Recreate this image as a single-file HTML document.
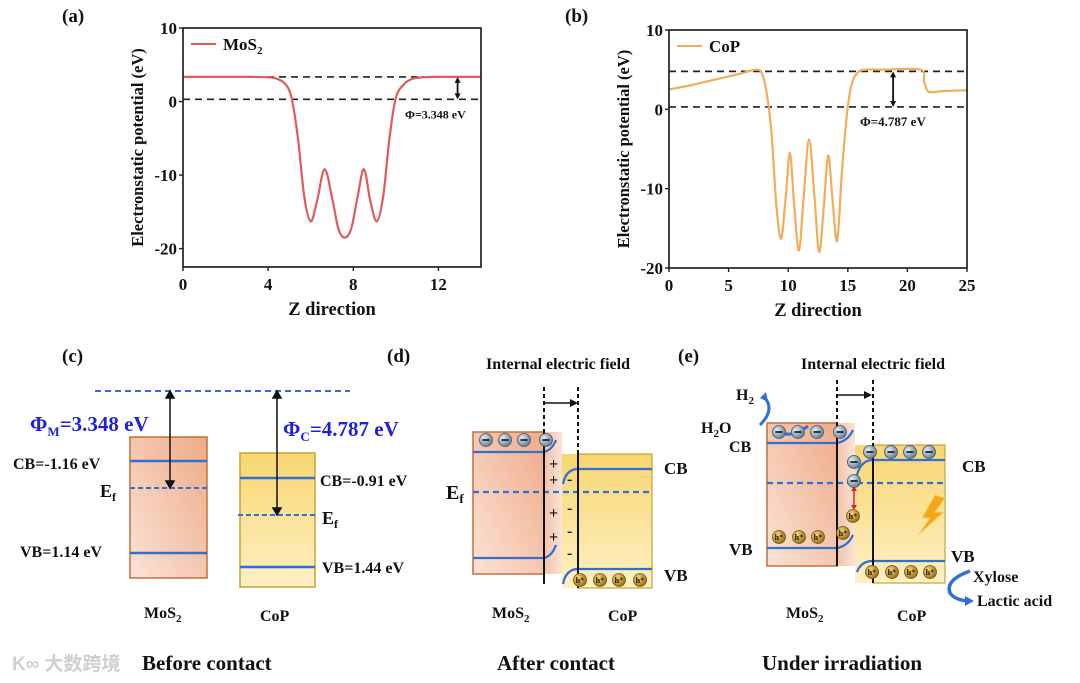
<!DOCTYPE html>
<html><head><meta charset="utf-8"><style>
html,body{margin:0;padding:0;background:#fff;width:1080px;height:683px;overflow:hidden}
svg text{font-family:"Liberation Serif","Noto Serif CJK SC",serif;font-weight:bold;fill:#111}
</style></head><body>
<svg id="fig" width="1080" height="683" viewBox="0 0 1080 683" xmlns="http://www.w3.org/2000/svg">
<defs>
<linearGradient id="gM" x1="0" y1="1" x2="1" y2="0"><stop offset="0" stop-color="#fbe3d6"/><stop offset="1" stop-color="#eeab88"/></linearGradient>
<linearGradient id="gC" x1="0" y1="0" x2="0" y2="1"><stop offset="0" stop-color="#f8d670"/><stop offset="1" stop-color="#fdf0c4"/></linearGradient>
<linearGradient id="gP" x1="0" y1="0" x2="1" y2="0"><stop offset="0" stop-color="#f2c3a8"/><stop offset="1" stop-color="#fbe3d6"/></linearGradient>
<radialGradient id="gE" cx="0.35" cy="0.35" r="0.7"><stop offset="0" stop-color="#e8eef5"/><stop offset="1" stop-color="#5e7891"/></radialGradient>
<radialGradient id="gH" cx="0.35" cy="0.35" r="0.7"><stop offset="0" stop-color="#f7dc7a"/><stop offset="1" stop-color="#9a6a10"/></radialGradient>
</defs>
<g id="pa"></g>
<g id="pb"></g>

<!-- panel c -->
<g>
<text x="62" y="362" font-size="19">(c)</text>
<line x1="95" y1="391" x2="350" y2="391" stroke="#2f6fd6" stroke-width="2" stroke-dasharray="6,4"/>
<rect x="130" y="437" width="77" height="141" fill="url(#gM)" stroke="#c0703f" stroke-width="1.5"/>
<line x1="130" y1="461" x2="207" y2="461" stroke="#2f6fd6" stroke-width="2.5"/>
<line x1="130" y1="488" x2="207" y2="488" stroke="#2f6fd6" stroke-width="2" stroke-dasharray="5,3"/>
<line x1="130" y1="553" x2="207" y2="553" stroke="#2f6fd6" stroke-width="2.5"/>
<rect x="240" y="453" width="75" height="134" fill="url(#gC)" stroke="#c9a233" stroke-width="1.5"/>
<line x1="240" y1="478" x2="315" y2="478" stroke="#2f6fd6" stroke-width="2.5"/>
<line x1="238" y1="515" x2="315" y2="515" stroke="#2f6fd6" stroke-width="2" stroke-dasharray="5,3"/>
<line x1="240" y1="567" x2="315" y2="567" stroke="#2f6fd6" stroke-width="2.5"/>
<g stroke="#111" stroke-width="1.5" fill="#111">
<line x1="170" y1="395" x2="170" y2="484"/><path d="M166,398 L170,391 L174,398Z"/><path d="M166,481 L170,488 L174,481Z"/>
<line x1="277" y1="395" x2="277" y2="511"/><path d="M273,398 L277,391 L281,398Z"/><path d="M273,508 L277,515 L281,508Z"/>
</g>
<text x="30" y="431" font-size="21" style="fill:#2121d8">Φ<tspan font-size="13" dy="5" style="fill:#2121d8">M</tspan><tspan dy="-5" style="fill:#2121d8">=3.348 eV</tspan></text>
<text x="283" y="436" font-size="21" style="fill:#2121d8">Φ<tspan font-size="13" dy="5" style="fill:#2121d8">C</tspan><tspan dy="-5" style="fill:#2121d8">=4.787 eV</tspan></text>
<text x="13" y="469" font-size="16">CB=-1.16 eV</text>
<text x="100" y="497" font-size="18">E<tspan font-size="12" dy="4">f</tspan></text>
<text x="20" y="557" font-size="16">VB=1.14 eV</text>
<text x="320" y="486" font-size="16">CB=-0.91 eV</text>
<text x="322" y="524" font-size="18">E<tspan font-size="12" dy="4">f</tspan></text>
<text x="322" y="573" font-size="16">VB=1.44 eV</text>
<text x="144" y="618" font-size="16">MoS<tspan font-size="11" dy="4">2</tspan></text>
<text x="260" y="621" font-size="16">CoP</text>
<text x="142" y="670" font-size="21">Before contact</text>
<text x="12" y="670" font-size="19" style="fill:#cfcfcf;font-family:'Liberation Sans','Noto Sans CJK SC',sans-serif">K∞ 大数跨境</text>
</g>

<!-- panel d -->
<g id="pd">
<text x="387" y="362" font-size="19">(d)</text>
<text x="558" y="369" font-size="16" text-anchor="middle">Internal electric field</text>
<rect x="544" y="432" width="18" height="142" fill="url(#gP)"/>
<rect x="562" y="454" width="90" height="134" fill="url(#gC)"/>
<rect x="578" y="454" width="74" height="134" fill="none" stroke="#c9a233" stroke-width="1.2"/>
<rect x="473" y="432" width="71" height="142" fill="url(#gM)" stroke="#c0703f" stroke-width="1.5"/>
<g fill="none" stroke="#2f6fd6" stroke-width="2.2">
<path d="M473,452 L544,452 Q552,450 556,440"/>
<path d="M473,558 L544,558 Q552,556 556,545"/>
<path d="M563,484 Q566,469 578,469 L652,469"/>
<path d="M563,584 Q566,569 578,569 L652,569"/>
<line x1="473" y1="492" x2="652" y2="492" stroke-dasharray="6,4"/>
</g>
<g stroke="#111" stroke-width="2"><line x1="544" y1="387" x2="544" y2="432" stroke-dasharray="4,3"/><line x1="544" y1="432" x2="544" y2="584"/>
<line x1="578" y1="387" x2="578" y2="454" stroke-dasharray="4,3"/><line x1="578" y1="454" x2="578" y2="588"/>
<line x1="544" y1="403" x2="572" y2="403" stroke-width="1.5"/></g><path d="M570,399 L578,403 L570,407Z" fill="#111"/>
<g font-size="16"><text x="549" y="469">+</text><text x="549" y="485">+</text><text x="549" y="518">+</text><text x="549" y="542">+</text>
<text x="567" y="484">-</text><text x="567" y="513">-</text><text x="567" y="536">-</text><text x="567" y="558">-</text></g>
<text x="446" y="499" font-size="20">E<tspan font-size="13" dy="4">f</tspan></text>
<text x="664" y="474" font-size="17">CB</text>
<text x="664" y="581" font-size="17">VB</text>
<text x="492" y="618" font-size="16">MoS<tspan font-size="11" dy="4">2</tspan></text>
<text x="608" y="621" font-size="16">CoP</text>
<text x="497" y="670" font-size="21">After contact</text>
</g>

<!-- panel e -->
<g id="pe">
<text x="678" y="362" font-size="19">(e)</text>
<text x="873" y="369" font-size="16" text-anchor="middle">Internal electric field</text>
<rect x="837" y="423" width="18" height="143" fill="url(#gP)"/>
<rect x="855" y="445" width="90" height="138" fill="url(#gC)"/>
<rect x="873" y="445" width="72" height="138" fill="none" stroke="#c9a233" stroke-width="1.2"/>
<rect x="767" y="423" width="70" height="143" fill="url(#gM)" stroke="#c0703f" stroke-width="1.5"/>
<g fill="none" stroke="#2f6fd6" stroke-width="2.2">
<path d="M767,443 L837,443 Q848,441 853,430"/>
<path d="M767,548 L837,548 Q848,546 853,535"/>
<path d="M857,475 Q861,460 873,460 L945,460"/>
<path d="M857,572 Q861,561 873,561 L945,561"/>
<line x1="767" y1="483" x2="945" y2="483" stroke-dasharray="6,4"/>
<path d="M808,426 Q790,440 777,430" stroke-width="3"/>
<path d="M760,425 Q775,410 765,398" stroke-width="3"/>
<path d="M970,571 Q945,580 950,593 Q955,600 968,601" stroke-width="3.5"/>
</g>
<path d="M760,398 L766,392 L768,402Z" fill="#2f6fd6"/><path d="M965,596 L974,601 L965,606Z" fill="#2f6fd6"/>
<g stroke="#111" stroke-width="2"><line x1="837" y1="380" x2="837" y2="423" stroke-dasharray="4,3"/><line x1="837" y1="423" x2="837" y2="566"/>
<line x1="873" y1="380" x2="873" y2="445" stroke-dasharray="4,3"/><line x1="873" y1="445" x2="873" y2="583"/>
<line x1="837" y1="395" x2="866" y2="395" stroke-width="1.5"/></g><path d="M864,391 L872,395 L864,399Z" fill="#111"/>
<line x1="854" y1="490" x2="854" y2="506" stroke="#e02020" stroke-width="1.5"/><path d="M851,491 L854,486 L857,491Z M851,505 L854,510 L857,505Z" fill="#e02020"/>
<path d="M935,495 L922,518 L930,518 L918,535 L944,512 L935,512 L945,498Z" fill="#f4a51c" stroke="#f8d060"/>
<text x="736" y="400" font-size="16">H<tspan font-size="11" dy="4">2</tspan></text>
<text x="701" y="433" font-size="16">H<tspan font-size="11" dy="4">2</tspan><tspan dy="-4">O</tspan></text>
<text x="729" y="452" font-size="16">CB</text>
<text x="729" y="555" font-size="17">VB</text>
<text x="962" y="472" font-size="17">CB</text>
<text x="951" y="562" font-size="17">VB</text>
<text x="973" y="582" font-size="16">Xylose</text>
<text x="977" y="606" font-size="16">Lactic acid</text>
<text x="786" y="618" font-size="16">MoS<tspan font-size="11" dy="4">2</tspan></text>
<text x="897" y="621" font-size="16">CoP</text>
<text x="762" y="670" font-size="21">Under irradiation</text>
</g>
</svg>
<script>
// Panel (a) MoS2 data
const mosZ = [0,3,4,4.4,4.8,5.1,5.4,5.7,6.0,6.3,6.65,7.0,7.3,7.6,7.9,8.2,8.5,8.8,9.1,9.4,9.7,10.0,10.4,10.8,11.3,12,14];
const mosV = [3.35,3.35,3.3,3.1,2.4,0.5,-5,-13,-16.3,-13.5,-9.2,-13,-17.3,-18.5,-17.3,-13,-9.2,-13.5,-16.3,-13,-5,0.5,2.4,3.1,3.3,3.35,3.35];
const aXTicks = [0,4,8,12];
const aYTicks = [10,0,-10,-20];
// Panel (b) CoP data
const copZ = [0,2,4,6,7.3,7.8,8.2,8.6,9.0,9.4,9.8,10.15,10.5,10.9,11.3,11.75,12.2,12.6,13.0,13.35,13.7,14.1,14.5,14.9,15.3,15.8,16.5,18,21.1,21.4,21.8,23,25];
const copV = [2.5,3.1,3.8,4.5,5.0,4.5,2,-3,-12,-16.3,-11,-5.5,-12,-17.8,-11,-3.8,-11,-18,-12,-5.8,-11,-16.6,-8,-1,3,4.6,5,5,5,3.5,2.2,2.3,2.4];
const bXTicks = [0,5,10,15,20,25];
const bYTicks = [10,0,-10,-20];
const phiA = 3.348, phiB = 4.787;
const NS='http://www.w3.org/2000/svg';
function mk(p,tag,attrs){const e=document.createElementNS(NS,tag);for(const k in attrs)e.setAttribute(k,attrs[k]);p.appendChild(e);return e;}
function smooth(pts){let d='M'+pts[0][0]+','+pts[0][1];for(let i=0;i<pts.length-1;i++){const p0=pts[Math.max(0,i-1)],p1=pts[i],p2=pts[i+1],p3=pts[Math.min(pts.length-1,i+2)];
const c1=[p1[0]+(p2[0]-p0[0])/6,p1[1]+(p2[1]-p0[1])/6],c2=[p2[0]-(p3[0]-p1[0])/6,p2[1]-(p3[1]-p1[1])/6];d+=' C'+c1+' '+c2+' '+p2;}return d;}
function chart(g,cfg){
 const sx=v=>cfg.x0+(v-cfg.xmin)/(cfg.xmax-cfg.xmin)*(cfg.x1-cfg.x0);
 const sy=v=>cfg.y1-(v-cfg.ymin)/(cfg.ymax-cfg.ymin)*(cfg.y1-cfg.y0);
 const lab=mk(g,'text',{x:cfg.lx,y:22,'font-size':19});lab.textContent=cfg.label;
 
 
 [cfg.phi,0.3].forEach(v=>{const l=mk(g,'line',{x1:cfg.x0,x2:cfg.x1,y1:sy(v),y2:sy(v),stroke:'#222','stroke-width':1.7,'stroke-dasharray':'7,5'});
 
 });
 const pts=cfg.xs.map((z,i)=>[sx(z),sy(cfg.vs[i])]);
 const path=mk(g,'path',{d:smooth(pts),fill:'none',stroke:cfg.color,'stroke-width':2.2});
 
 
 const box=mk(g,'rect',{x:cfg.x0,y:cfg.y0,width:cfg.x1-cfg.x0,height:cfg.y1-cfg.y0,fill:'none',stroke:'#222','stroke-width':1.7});
 
 
 cfg.xt.forEach(v=>{mk(g,'line',{x1:sx(v),x2:sx(v),y1:cfg.y1,y2:cfg.y1+4,stroke:'#222','stroke-width':1.4});
 const t=mk(g,'text',{x:sx(v),y:cfg.y1+23,'font-size':17,'text-anchor':'middle'});t.textContent=v;
 
 });
 cfg.yt.forEach(v=>{mk(g,'line',{x1:cfg.x0-4,x2:cfg.x0,y1:sy(v),y2:sy(v),stroke:'#222','stroke-width':1.4});
 const t=mk(g,'text',{x:cfg.x0-6,y:sy(v)+6,'font-size':17,'text-anchor':'end'});t.textContent=v;
 
 });
 const xt=mk(g,'text',{x:(cfg.x0+cfg.x1)/2,y:cfg.y1+48,'font-size':18.5,'text-anchor':'middle'});xt.textContent='Z direction';
 
 
 const yt=mk(g,'text',{x:0,y:0,'font-size':16.5,'text-anchor':'middle',transform:`translate(${cfg.x0-40},${(cfg.y0+cfg.y1)/2}) rotate(-90)`});yt.textContent='Electronstatic potential (eV)';
 
 
 mk(g,'line',{x1:cfg.x0+8,x2:cfg.x0+33,y1:cfg.y0+16,y2:cfg.y0+16,stroke:cfg.color,'stroke-width':2});
 const lt=mk(g,'text',{x:cfg.x0+40,y:cfg.y0+22,'font-size':17});lt.innerHTML=cfg.legend;
 
 
 const ax=sx(cfg.arrowX);
 mk(g,'line',{x1:ax,x2:ax,y1:sy(cfg.phi)+4,y2:sy(0.3)-4,stroke:'#111','stroke-width':1.8});
 mk(g,'path',{d:`M${ax-3},${sy(cfg.phi)+6} L${ax},${sy(cfg.phi)} L${ax+3},${sy(cfg.phi)+6}Z M${ax-3},${sy(0.3)-6} L${ax},${sy(0.3)} L${ax+3},${sy(0.3)-6}Z`,fill:'#111'});
 const pt=mk(g,'text',{x:cfg.phix,y:sy(0.3)+cfg.phidy,'font-size':cfg.phifs});pt.textContent='Φ='+cfg.phi+' eV';
 
 
}
chart(document.getElementById('pa'),{x0:183,x1:481,y0:28,y1:267,xmin:0,xmax:14,ymin:-22.5,ymax:10,xs:mosZ,vs:mosV,xt:aXTicks,yt:aYTicks,color:'#e05a5a',label:'(a)',lx:62,phi:phiA,arrowX:12.9,legend:'MoS<tspan font-size="11" dy="4">2</tspan>',phix:405,phidy:19,phifs:12});
chart(document.getElementById('pb'),{x0:669,x1:967,y0:30,y1:268,xmin:0,xmax:25,ymin:-20,ymax:10,xs:copZ,vs:copV,xt:bXTicks,yt:bYTicks,color:'#f2ac5a',label:'(b)',lx:565,phi:phiB,arrowX:18.8,legend:'CoP',phix:860,phidy:19,phifs:13});
function carrier(parent,x,y,type){const g=mk(parent,'g',{});
 
 
 mk(g,'circle',{cx:x,cy:y,r:6.5,fill:type==='e'?'url(#gE)':'url(#gH)',stroke:type==='e'?'#44566a':'#7a5208','stroke-width':0.8});
 if(type==='e')mk(g,'line',{x1:x-3.5,x2:x+3.5,y1:y,y2:y,stroke:'#222','stroke-width':1.8});
 else{const t=mk(g,'text',{x:x,y:y+3,'font-size':8,'text-anchor':'middle'});t.textContent='h⁺';}
}
const pd=document.getElementById('pd'),pe=document.getElementById('pe');
[486,505,524,546].forEach(x=>carrier(pd,x,440,'e'));
[580,600,619,640].forEach(x=>carrier(pd,x,580,'h'));
[779,798,817,840].forEach(x=>carrier(pe,x,432,'e'));
[870,891,910,929].forEach(x=>carrier(pe,x,452,'e'));
carrier(pe,854,462,'e');carrier(pe,854,481,'e');
[779,799,818].forEach(x=>carrier(pe,x,537,'h'));
carrier(pe,853,516,'h');carrier(pe,843,533,'h');
[872,892,911,930].forEach(x=>carrier(pe,x,572,'h'));
</script>
</body></html>
